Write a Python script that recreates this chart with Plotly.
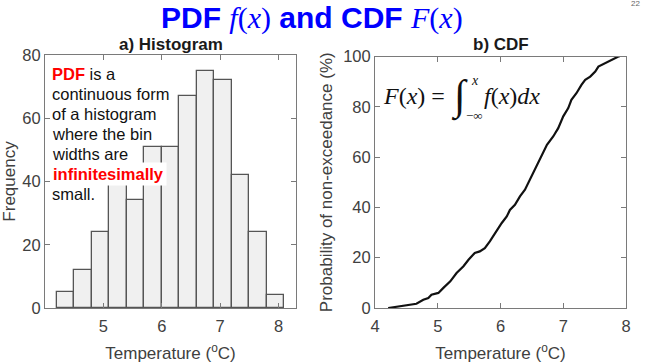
import plotly.graph_objects as go

# ---- data ----
bin_edges = [4.2, 4.5, 4.8, 5.1, 5.4, 5.7, 6.0, 6.3, 6.6, 6.9, 7.2, 7.5, 7.8, 8.1]
counts = [5, 12, 24, 39, 34, 51, 51, 67, 75, 72, 42, 24, 4]

cdf_temp = [4.21, 4.40, 4.56, 4.66, 4.77, 4.85, 4.90, 5.01, 5.09, 5.20, 5.30, 5.41, 5.49,
            5.59, 5.67, 5.75, 5.83, 5.91, 6.02, 6.10, 6.15, 6.23, 6.31, 6.39, 6.47, 6.55,
            6.63, 6.74, 6.84, 6.92, 7.00, 7.08, 7.13, 7.21, 7.29, 7.35, 7.43, 7.51, 7.56,
            7.67, 7.77, 7.88, 7.90]
cdf_prob = [0.0, 0.7, 1.3, 1.7, 3.3, 4.0, 5.3, 6.0, 8.0, 10.6, 13.9, 16.6, 19.2,
            21.9, 22.5, 23.8, 26.5, 29.8, 33.8, 36.4, 39.0, 41.0, 44.4, 47.0, 51.0, 55.0,
            59.6, 64.9, 68.2, 71.5, 76.2, 79.5, 82.8, 85.4, 88.7, 90.7, 92.0, 94.0, 96.0,
            97.4, 98.7, 100.0, 100.0]

hist_xticks = [5, 6, 7, 8]
hist_yticks = [0, 20, 40, 60, 80]
cdf_xticks = [4, 5, 6, 7, 8]
cdf_yticks = [0, 20, 40, 60, 80, 100]

note_lines = [
    ("<b><span style='color:#ff0000'>PDF</span></b> is a", None),
    ("continuous form", None),
    ("of a histogram", None),
    ("where the bin", None),
    ("widths are", None),
    ("<b><span style='color:#ff0000'>infinitesimally</span></b>", "white"),
    ("small.", None),
]

W, H = 645, 364
def px(x):
    return x / W
def py(y):
    return 1 - y / H

centers = [(bin_edges[i] + bin_edges[i + 1]) / 2 for i in range(len(counts))]
widths = [bin_edges[i + 1] - bin_edges[i] for i in range(len(counts))]

fig = go.Figure()
fig.add_trace(go.Bar(x=centers, y=counts, width=widths,
                     marker=dict(color="#f0f0f0", line=dict(color="#555555", width=1.3)),
                     xaxis="x", yaxis="y", showlegend=False, hoverinfo="skip"))
fig.add_trace(go.Scatter(x=cdf_temp, y=cdf_prob, mode="lines",
                         line=dict(color="#111111", width=2.2),
                         xaxis="x2", yaxis="y2", showlegend=False, hoverinfo="skip"))

axis_font = dict(family="Liberation Sans, Arial", size=16.5, color="#404040")
title_font = dict(family="Liberation Sans, Arial", size=17, color="#404040")
common = dict(showline=True, linecolor="#7a7a7a", linewidth=1, mirror="ticks",
              ticks="inside", ticklen=5, tickcolor="#7a7a7a", showgrid=False,
              zeroline=False, tickfont=axis_font, automargin=False)

fig.update_layout(
    template="none",
    width=W, height=H, margin=dict(l=0, r=0, t=0, b=0, autoexpand=False),
    paper_bgcolor="white", plot_bgcolor="white", bargap=0,
    xaxis=dict(domain=[px(45), px(296)], range=[4.0, 8.3], tickvals=hist_xticks,
               anchor="y", ticklabelstandoff=3,
               title=dict(text="Temperature (<sup>o</sup>C)", font=title_font, standoff=13),
               **common),
    yaxis=dict(domain=[py(308), py(55)], range=[0, 80], tickvals=hist_yticks,
               anchor="x", title=dict(text="Frequency", font=title_font, standoff=6),
               **common),
    xaxis2=dict(domain=[px(375), px(626)], range=[4, 8], tickvals=cdf_xticks,
                anchor="y2", ticklabelstandoff=3,
                title=dict(text="Temperature (<sup>o</sup>C)", font=title_font, standoff=13),
                **common),
    yaxis2=dict(domain=[py(308), py(56.5)], range=[0, 100], tickvals=cdf_yticks,
                anchor="x2", title=dict(text="Probability of non-exceedance (%)", font=title_font, standoff=6),
                **common),
)

def note(text, x, y, size, family="Liberation Sans, Arial", color="#111111", xanchor="center", **kw):
    d = dict(text=text, x=px(x), y=py(y), xref="paper", yref="paper", xanchor=xanchor,
             yanchor="middle", showarrow=False, font=dict(family=family, size=size, color=color))
    d.update(kw)
    return d

ann = []
ann.append(note("<b>PDF</b> <span style='font-family:Liberation Serif'><i>f</i>(<i>x</i>)</span> <b>and CDF</b> <span style='font-family:Liberation Serif'><i>F</i>(<i>x</i>)</span>",
                312, 18, 30, color="#0000ff"))
ann.append(note("22", 635, 4, 8, color="#666666"))
ann.append(note("<b>a) Histogram</b>", 170.5, 44, 17, color="#1a1a1a"))
ann.append(note("<b>b) CDF</b>", 500.5, 44, 17, color="#1a1a1a"))
for i, (t, bg) in enumerate(note_lines):
    kw = dict(bgcolor=bg, borderpad=2) if bg else {}
    ann.append(note(t, 50, 74 + 20 * i, 16.5, xanchor="left", **kw))
serif = "Liberation Serif, Times New Roman"
ann.append(note("<i>F</i>(<i>x</i>) =", 381, 96, 24, family=serif, xanchor="left"))
ann.append(note("∫", 459, 97, 42, family=serif))
ann.append(note("<i>x</i>", 475, 80, 14, family=serif))
ann.append(note("−∞", 474, 115, 13, family=serif))
ann.append(note("<i>f</i>(<i>x</i>)<i>dx</i>", 482, 96, 24, family=serif, xanchor="left"))
fig.update_layout(annotations=ann)

fig.write_html("out.html", config={"displayModeBar": False},
               post_script="document.body.style.margin='0';")
